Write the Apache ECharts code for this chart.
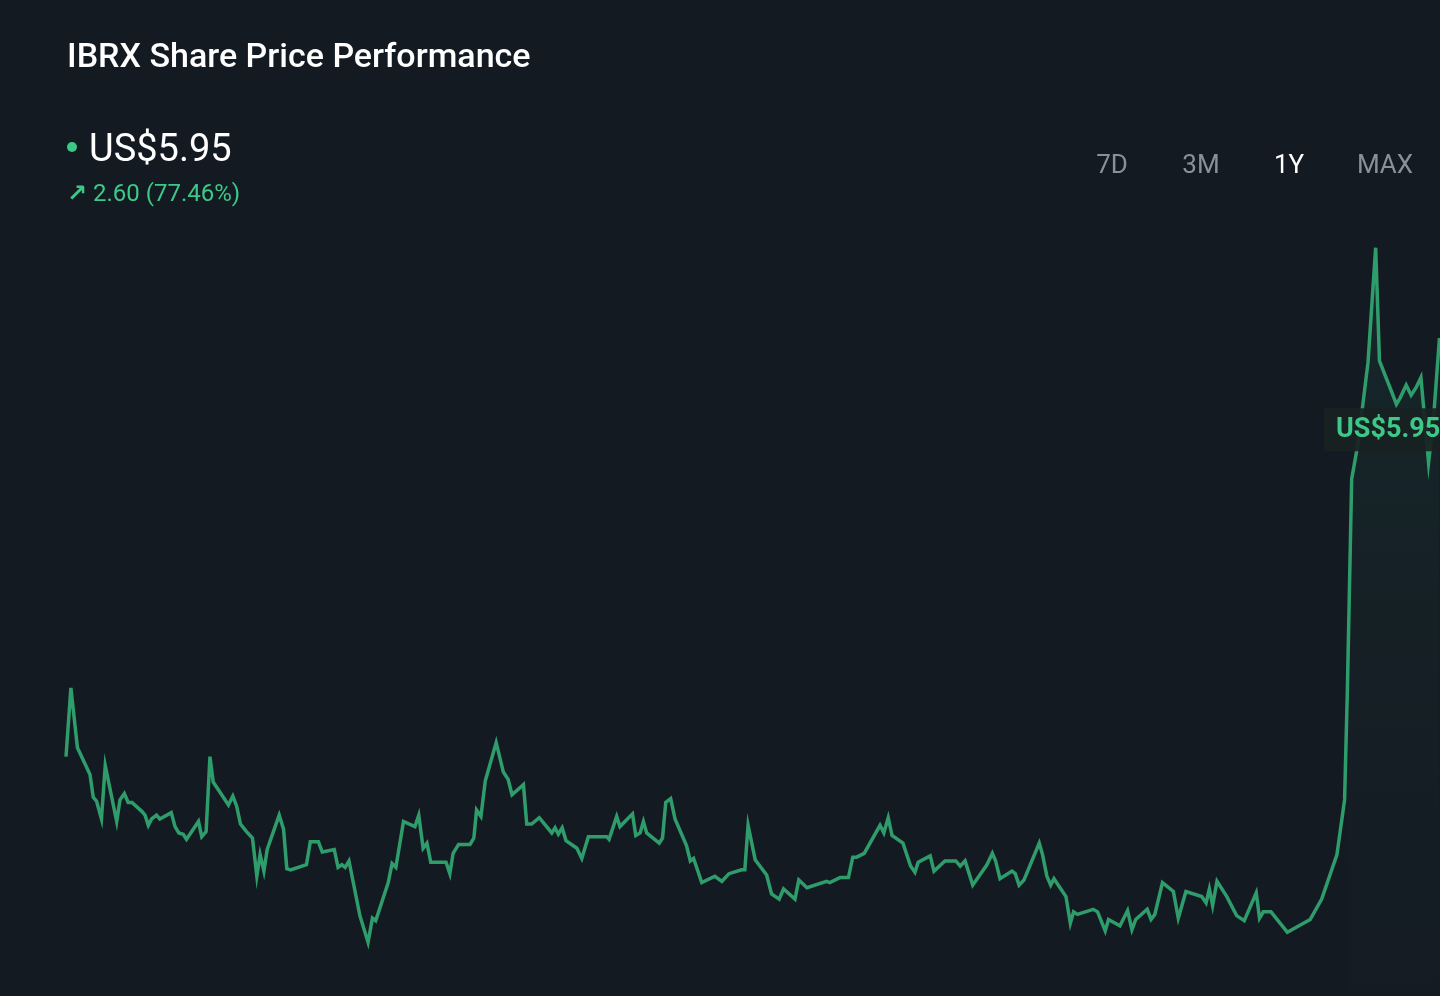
<!DOCTYPE html>
<html>
<head>
<meta charset="utf-8">
<title>IBRX Share Price Performance</title>
<script src="https://cdn.jsdelivr.net/npm/echarts@6/dist/echarts.min.js"></script>
<style>
  html, body { margin: 0; padding: 0; background: #141a22; }
  #chart { width: 1440px; height: 996px; }
</style>
</head>
<body>
<div id="chart"></div>
<script>
// trading day index (1Y window) and close price
var days = [0, 0.9, 2.1, 4.4, 5.0, 5.6, 6.5, 7.2, 9.3, 9.9, 10.7, 11.4, 12.1, 13.9, 14.5, 15.1, 15.7, 16.6, 17.2, 19.3,
  20.0, 20.7, 21.5, 22.1, 24.3, 24.9, 25.7, 26.4, 27.0, 29.8, 30.6, 31.3, 32.0, 33.1, 34.2, 35.0, 35.6, 36.3, 36.9, 39.1,
  39.9, 40.5, 41.2, 44.1, 44.8, 46.3, 47.0, 49.2, 49.9, 50.6, 51.2, 51.9, 53.9, 55.4, 56.2, 56.8, 59.1, 59.8, 60.5, 61.9,
  64.0, 64.7, 65.5, 66.2, 66.9, 69.7, 70.4, 71.0, 72.0, 74.1, 74.8, 75.3, 76.1, 76.9, 78.9, 80.2, 81.1, 81.8, 83.9, 84.5,
  85.4, 86.8, 89.1, 89.7, 90.3, 91.0, 91.7, 93.7, 94.6, 95.8, 99.2, 99.6, 101.0, 101.6, 103.9, 104.5, 105.3, 105.9, 106.5, 108.8,
  109.4, 110.0, 110.9, 111.7, 113.8, 114.5, 115.1, 116.6, 119.0, 120.3, 121.6, 123.9, 124.5, 125.1, 126.4, 128.5, 129.4, 130.8, 131.6, 133.7,
  134.4, 135.9, 139.5, 140.1, 142.0, 143.5, 144.3, 145.0, 146.4, 149.3, 150.0, 150.8, 151.5, 153.5, 154.9, 155.7, 156.3, 158.5, 159.2, 161.2,
  163.2, 164.0, 164.9, 166.3, 168.9, 169.9, 170.5, 171.3, 173.5, 174.1, 174.8, 175.7, 178.5, 179.1, 179.9, 180.6, 181.2, 183.4, 184.2, 184.8,
  185.5, 188.4, 189.2, 190.6, 191.2, 193.3, 194.7, 195.5, 196.2, 198.3, 199.0, 199.7, 201.1, 203.1, 204.0, 205.4, 208.3, 209.1, 209.7, 210.3,
  211.1, 212.9, 214.7, 216.1, 218.3, 218.9, 219.6, 221.0, 222.7, 224.0, 228.2, 230.3, 233.1, 234.5, 235.0, 235.5, 235.8, 237.0, 238.8, 240.2,
  240.9, 243.2, 244.0, 244.7, 245.8, 246.7, 247.6, 248.5, 249.2, 249.9, 250.8, 251.9];
var prices = [3.35, 3.89, 3.42, 3.21, 3.03, 3.00, 2.86, 3.28, 2.84, 3.01, 3.06, 2.99, 2.99, 2.92, 2.89, 2.81, 2.86, 2.89, 2.86, 2.91,
  2.80, 2.75, 2.74, 2.70, 2.84, 2.72, 2.76, 3.35, 3.15, 2.97, 3.04, 2.96, 2.82, 2.76, 2.71, 2.41, 2.58, 2.45, 2.62, 2.89,
  2.78, 2.47, 2.46, 2.50, 2.68, 2.68, 2.60, 2.62, 2.48, 2.50, 2.48, 2.53, 2.10, 1.89, 2.08, 2.06, 2.36, 2.51, 2.48, 2.84,
  2.80, 2.89, 2.63, 2.67, 2.52, 2.52, 2.43, 2.59, 2.66, 2.66, 2.71, 2.93, 2.88, 3.16, 3.46, 3.23, 3.17, 3.05, 3.13, 2.82,
  2.82, 2.87, 2.75, 2.79, 2.74, 2.79, 2.69, 2.63, 2.55, 2.72, 2.72, 2.70, 2.88, 2.80, 2.90, 2.73, 2.75, 2.84, 2.75, 2.67,
  2.71, 2.99, 3.02, 2.86, 2.65, 2.53, 2.55, 2.36, 2.41, 2.37, 2.43, 2.46, 2.46, 2.81, 2.54, 2.42, 2.27, 2.23, 2.31, 2.23,
  2.38, 2.32, 2.37, 2.36, 2.40, 2.40, 2.56, 2.56, 2.59, 2.81, 2.75, 2.87, 2.73, 2.67, 2.49, 2.44, 2.52, 2.57, 2.45, 2.53,
  2.53, 2.49, 2.53, 2.34, 2.50, 2.59, 2.53, 2.39, 2.45, 2.43, 2.34, 2.38, 2.67, 2.58, 2.41, 2.34, 2.39, 2.25, 2.04, 2.13,
  2.11, 2.15, 2.13, 1.98, 2.07, 2.02, 2.14, 1.99, 2.07, 2.15, 2.07, 2.11, 2.36, 2.29, 2.08, 2.29, 2.25, 2.20, 2.31, 2.18,
  2.37, 2.25, 2.10, 2.06, 2.28, 2.08, 2.13, 2.13, 2.04, 1.97, 2.07, 2.23, 2.58, 3.01, 3.85, 4.90, 5.53, 5.82, 6.45, 7.35,
  6.46, 6.21, 6.12, 6.17, 6.27, 6.19, 6.25, 6.33, 6.00, 5.66, 6.00, 6.64];

var lastPrice = 5.95;
var change = 2.60;
var changePct = 77.46;
var ranges = ['7D', '3M', '1Y', 'MAX'];
var activeRange = '1Y';

var green = '#2f9d6b';
var brightGreen = '#3cc987';

var points = days.map(function (d, i) { return [d, prices[i]]; });
// the area highlight starts where the breakout begins
var spikeStart = days.indexOf(235.0);
var spikePoints = points.slice(spikeStart);

var chart = echarts.init(document.getElementById('chart'));

var rangeX = [1112, 1201, 1289, 1385];
var rangeGraphics = ranges.map(function (r, i) {
  return {
    type: 'text',
    x: rangeX[i],
    y: 166,
    style: {
      text: r,
      align: 'center',
      verticalAlign: 'middle',
      fill: r == activeRange ? '#ffffff' : '#8a9099',
      font: '26px Roboto'
    }
  };
});

var option = {
  backgroundColor: '#141a22',
  animation: false,
  title: {
    text: 'IBRX Share Price Performance',
    left: 62,
    top: 36,
    textStyle: { color: '#ffffff', fontFamily: 'Roboto', fontSize: 34, fontWeight: 500 }
  },
  grid: { left: 66, right: 0, top: 165, bottom: 4 },
  xAxis: { type: 'value', min: 0, max: 252, show: false },
  yAxis: { type: 'value', min: 1.5, max: 8, show: false },
  series: [
    {
      type: 'line',
      data: spikePoints,
      symbol: 'none',
      lineStyle: { width: 0 },
      silent: true,
      areaStyle: {
        color: new echarts.graphic.LinearGradient(0, 0, 0, 1, [
          { offset: 0, color: 'rgba(40,140,100,0.16)' },
          { offset: 0.5, color: 'rgba(40,140,100,0.08)' },
          { offset: 1, color: 'rgba(40,140,100,0.01)' }
        ])
      },
      z: 1
    },
    {
      type: 'line',
      data: points,
      symbol: 'none',
      lineStyle: { color: green, width: 3.5, join: 'miter' },
      z: 2
    }
  ],
  graphic: [
    { type: 'circle', shape: { cx: 72, cy: 147, r: 5 }, style: { fill: brightGreen } },
    {
      type: 'text', x: 89, y: 151,
      style: { text: 'US$' + lastPrice.toFixed(2), fill: '#ffffff', font: '38px Roboto', verticalAlign: 'middle' }
    },
    {
      type: 'text', x: 67, y: 195,
      style: { text: '\u2197', fill: brightGreen, font: 'bold 24px "DejaVu Sans"', verticalAlign: 'middle' }
    },
    {
      type: 'text', x: 93, y: 195,
      style: { text: change.toFixed(2) + ' (' + changePct.toFixed(2) + '%)', fill: brightGreen, font: '24px Roboto', verticalAlign: 'middle' }
    }
  ].concat(rangeGraphics)
};

chart.setOption(option);

// price tag at the current price level
var tagY = chart.convertToPixel({ gridIndex: 0 }, [252, lastPrice])[1];
chart.setOption({
  graphic: option.graphic.concat([{
    type: 'text',
    x: 1324,
    y: tagY + 4,
    z: 10,
    style: {
      text: 'US$' + lastPrice.toFixed(2),
      fill: brightGreen,
      font: 'bold 27px Roboto',
      verticalAlign: 'middle',
      backgroundColor: 'rgba(24,34,34,0.92)',
      padding: [8, 12, 8, 12]
    }
  }])
});
</script>
</body>
</html>
